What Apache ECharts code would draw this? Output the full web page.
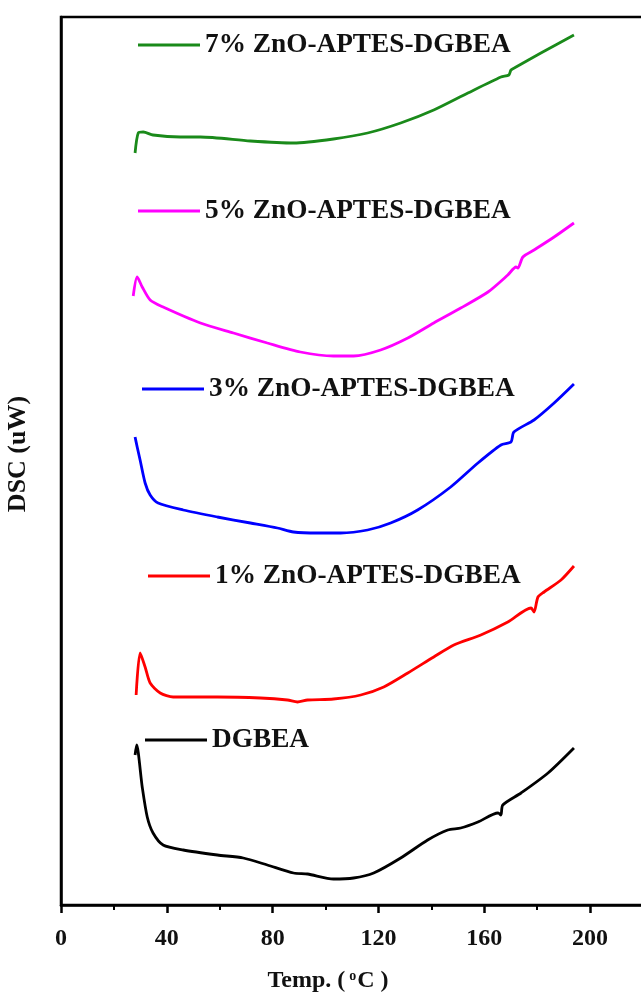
<!DOCTYPE html>
<html>
<head>
<meta charset="utf-8">
<script src="https://cdn.jsdelivr.net/npm/echarts@6/dist/echarts.min.js"></script>
<style>html,body{margin:0;padding:0;background:#fff;}#c{width:641px;height:999px;}</style>
</head>
<body>
<div id="c"></div>
<script>
// Series names
const names = ['DGBEA', '1% ZnO-APTES-DGBEA', '3% ZnO-APTES-DGBEA', '5% ZnO-APTES-DGBEA', '7% ZnO-APTES-DGBEA'];
const colors = ['#000000', '#ff0000', '#0000ff', '#ff00ff', '#1a8a1a'];
const xTicks = [0, 40, 80, 120, 160, 200];

// Temperatures (°C) and DSC values (arbitrary, offset per curve)
const dgbeaT = [28.0, 28.6, 30.7, 32.6, 34.8, 38.6, 46.2, 59.1, 68.9, 78.0, 87.9, 93.2, 103.0, 110.6, 118.2, 128.4, 138.6, 146.2, 151.1, 157.6, 165.2, 166.3, 167.0, 173.9, 184.1, 193.9];
const dgbeaV = [15.0, 16.0, 11.8, 8.8, 7.2, 6.0, 5.5, 5.0, 4.7, 4.0, 3.2, 3.1, 2.6, 2.7, 3.2, 4.7, 6.5, 7.5, 7.7, 8.3, 9.2, 9.0, 10.0, 11.2, 13.2, 15.7];

const z1T = [28.4, 29.9, 31.8, 33.7, 37.5, 42.4, 59.1, 75.4, 85.6, 89.4, 93.2, 103.0, 113.3, 122.0, 131.1, 140.9, 148.5, 158.7, 168.9, 177.7, 178.8, 180.3, 182.6, 189.0, 193.9];
const z1V = [21.0, 25.2, 23.8, 22.2, 21.2, 20.8, 20.8, 20.7, 20.5, 20.3, 20.5, 20.6, 21.0, 21.8, 23.2, 24.8, 26.0, 27.0, 28.3, 29.7, 29.3, 30.8, 31.3, 32.5, 33.9];

const z3T = [28.0, 28.8, 29.9, 31.8, 33.7, 36.7, 46.2, 59.1, 71.6, 81.8, 87.9, 97.0, 105.7, 115.9, 124.6, 134.8, 147.3, 157.6, 166.3, 170.1, 171.2, 178.8, 186.4, 193.9];
const z3V = [46.8, 45.8, 44.5, 42.2, 41.0, 40.2, 39.5, 38.8, 38.2, 37.7, 37.3, 37.2, 37.2, 37.5, 38.2, 39.5, 41.8, 44.2, 46.0, 46.3, 47.3, 48.5, 50.2, 52.1];

const z5T = [27.3, 28.8, 30.7, 33.7, 38.6, 52.7, 65.2, 78.0, 90.5, 103.0, 110.6, 120.8, 131.1, 140.9, 151.1, 161.4, 168.9, 172.0, 172.7, 174.6, 178.8, 186.4, 193.9];
const z5V = [60.9, 62.8, 61.8, 60.5, 59.8, 58.2, 57.2, 56.2, 55.3, 54.9, 54.9, 55.5, 56.7, 58.2, 59.7, 61.3, 63.0, 63.8, 63.7, 64.8, 65.5, 66.8, 68.2];

const z7T = [28.0, 29.2, 31.1, 34.8, 45.1, 52.7, 71.6, 87.9, 103.0, 115.9, 128.4, 140.9, 153.8, 166.3, 169.3, 170.1, 172.0, 181.4, 193.9];
const z7V = [75.2, 77.2, 77.3, 77.0, 76.8, 76.8, 76.4, 76.2, 76.6, 77.2, 78.2, 79.5, 81.2, 82.8, 83.0, 83.5, 83.8, 85.2, 87.0];

const allT = [dgbeaT, z1T, z3T, z5T, z7T];
const allV = [dgbeaV, z1V, z3V, z5V, z7V];

const FONT = '"Liberation Serif", "Times New Roman", serif';

// legend placement (left, top) for each series
const legendPos = [[145, 726], [148, 562], [142, 375], [138, 197], [138, 31]];

const series = names.map((n, i) => ({
  name: n,
  type: 'line',
  data: allT[i].map((t, k) => [t, allV[i][k]]),
  showSymbol: false,
  symbol: 'none',
  smooth: 0.25,
  lineStyle: { color: colors[i], width: 2.8 },
  itemStyle: { color: colors[i] }
}));

const legends = names.map((n, i) => ({
  data: [n],
  left: legendPos[i][0],
  top: legendPos[i][1],
  padding: 0,
  icon: 'rect',
  itemWidth: 62,
  itemHeight: 3,
  itemGap: 0,
  textStyle: { fontFamily: FONT, fontWeight: 'bold', fontSize: 27.3, color: '#111', lineHeight: 28, padding: [0, 0, 0, 0] },
  selectedMode: false
}));

const chart = echarts.init(document.getElementById('c'), null, { renderer: 'canvas' });
chart.setOption({
  backgroundColor: '#fff',
  animation: false,
  grid: { left: 61, right: -2, top: 17, bottom: 94, outerBoundsMode: 'none', containLabel: false, show: true, borderColor: '#000', borderWidth: 2.5, backgroundColor: 'transparent' },
  legend: legends,
  xAxis: {
    type: 'value',
    min: 0,
    max: 220,
    interval: 40,
    name: 'Temp. ({s|o}C )',
    nameLocation: 'middle',
    nameGap: 64,
    nameTextStyle: {
      fontFamily: FONT, fontWeight: 'bold', fontSize: 24, color: '#111', padding: [0, 48, 0, 0],
      rich: { s: { fontFamily: FONT, fontWeight: 'bold', fontSize: 14, verticalAlign: 'top', padding: [0, 1, 10, 4] } }
    },
    axisLine: { show: true, lineStyle: { color: '#000', width: 2.5 } },
    axisTick: { show: true, inside: false, length: 8, lineStyle: { color: '#000', width: 2.5 } },
    minorTick: { show: true, splitNumber: 2, length: 5, lineStyle: { color: '#000', width: 2 } },
    splitLine: { show: false },
    axisLabel: {
      fontFamily: FONT, fontWeight: 'bold', fontSize: 24, color: '#111', margin: 22,
      formatter: v => (xTicks.indexOf(v) >= 0 ? String(v) : '')
    }
  },
  yAxis: {
    type: 'value',
    min: 0,
    max: 88.8,
    name: 'DSC (uW)',
    nameLocation: 'middle',
    nameGap: 30,
    nameRotate: 90,
    nameTextStyle: { fontFamily: FONT, fontWeight: 'bold', fontSize: 26, color: '#111', padding: [0, 0, 0, 14] },
    axisLine: { show: true, lineStyle: { color: '#000', width: 2.5 } },
    axisTick: { show: false },
    axisLabel: { show: false },
    splitLine: { show: false }
  },
  series: series
});
</script>
</body>
</html>
